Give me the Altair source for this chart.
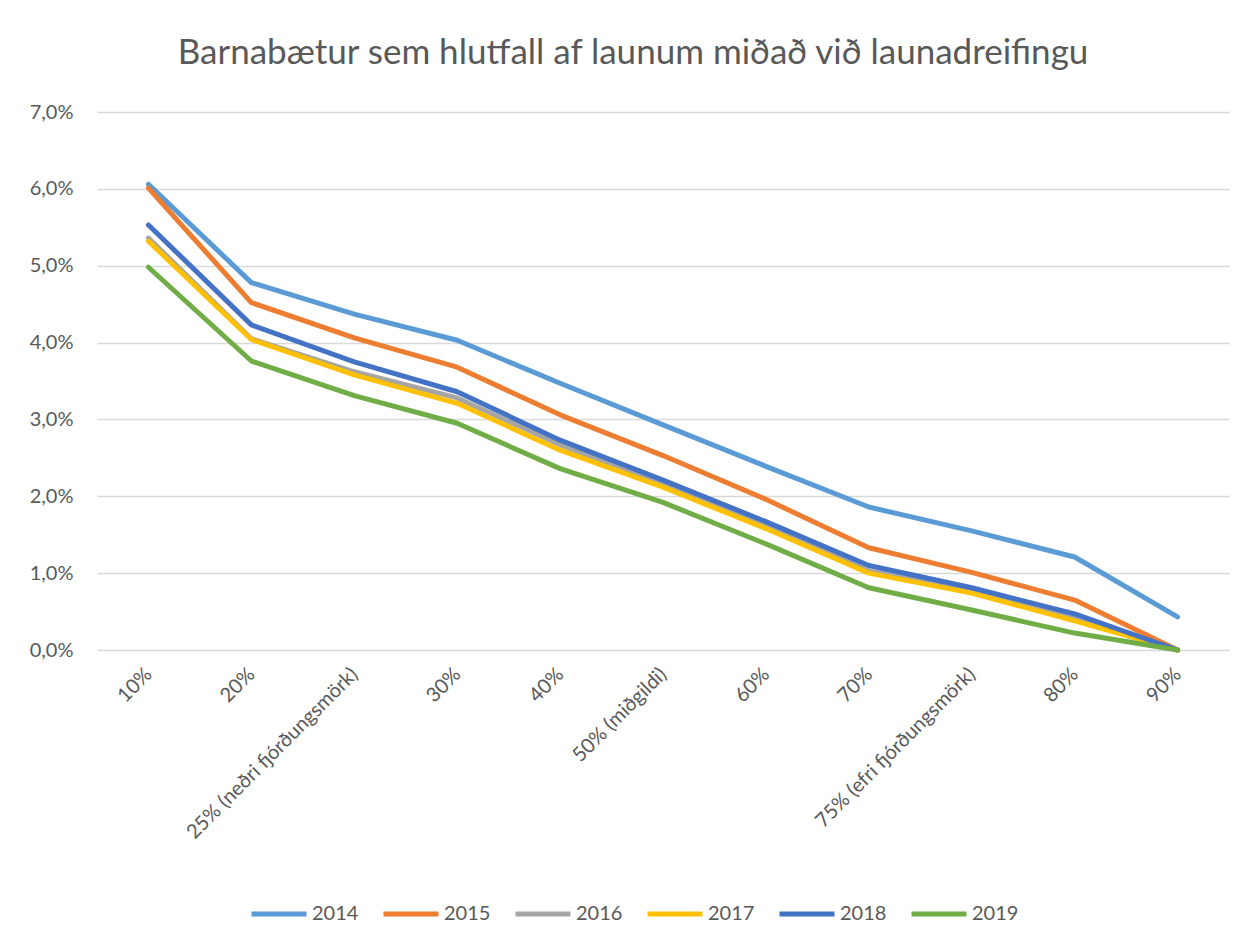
import altair as alt
import pandas as pd

categories = ["10%", "20%", "25% (neðri fjórðungsmörk)", "30%", "40%", "50% (miðgildi)",
              "60%", "70%", "75% (efri fjórðungsmörk)", "80%", "90%"]
years = ["2014", "2015", "2016", "2017", "2018", "2019"]
colors = ["#5B9BD5", "#ED7D31", "#A5A5A5", "#FFC000", "#4472C4", "#70AD47"]

v2014 = [6.06, 4.78, 4.37, 4.03, 3.47, 2.93, 2.39, 1.86, 1.55, 1.21, 0.43]
v2015 = [6.01, 4.52, 4.06, 3.68, 3.06, 2.53, 1.96, 1.33, 1.01, 0.65, 0.0]
v2016 = [5.36, 4.05, 3.62, 3.28, 2.67, 2.17, 1.63, 1.03, 0.78, 0.42, 0.0]
v2017 = [5.32, 4.04, 3.58, 3.21, 2.60, 2.12, 1.58, 1.00, 0.74, 0.38, 0.0]
v2018 = [5.53, 4.23, 3.75, 3.36, 2.73, 2.21, 1.67, 1.10, 0.81, 0.47, 0.0]
v2019 = [4.98, 3.76, 3.31, 2.95, 2.36, 1.92, 1.38, 0.81, 0.52, 0.22, 0.0]

series = [v2014, v2015, v2016, v2017, v2018, v2019]
rows = []
for yr, vals in zip(years, series):
    for i, (c, v) in enumerate(zip(categories, vals)):
        rows.append({"cat": c, "year": yr, "value": v / 100.0, "order": i})
df = pd.DataFrame(rows)

FONT = "Lato"
GREY = "#595959"

chart = alt.Chart(df).mark_line(strokeWidth=5, strokeCap="round", strokeJoin="round").encode(
    x=alt.X("cat:N", sort=categories, scale=alt.Scale(type="point", padding=0.5),
            axis=alt.Axis(title=None, labelAngle=-45, labelAlign="right", labelBaseline="middle",
                          labelFontSize=20, labelColor=GREY, labelFont=FONT, domain=False,
                          ticks=False, grid=False, labelPadding=21, labelLimit=400)),
    y=alt.Y("value:Q", scale=alt.Scale(domain=[0, 0.07], nice=False),
            axis=alt.Axis(title=None, values=[0, 0.01, 0.02, 0.03, 0.04, 0.05, 0.06, 0.07],
                          labelExpr="replace(format(datum.value, '.1%'), '.', ',')",
                          labelFontSize=20, labelColor=GREY, labelFont=FONT, domain=False,
                          ticks=False, gridColor="#D9D9D9", gridWidth=1.5, labelPadding=24)),
    color=alt.Color("year:N", scale=alt.Scale(domain=years, range=colors),
                    legend=alt.Legend(title=None, orient="none", direction="horizontal",
                                      legendX=152, legendY=772, symbolType="stroke",
                                      symbolStrokeWidth=5, symbolSize=3025,
                                      labelFontSize=20, labelColor=GREY, labelFont=FONT,
                                      labelOffset=3, columnPadding=14, symbolOffset=0)),
    order=alt.Order("order:Q"),
).properties(
    width=1132, height=538,
    title=alt.Title("Barnabætur sem hlutfall af launum miðað við launadreifingu",
                    fontSize=35, font=FONT, color=GREY, fontWeight="normal", offset=31, dx=-30),
    autosize=alt.AutoSizeParams(type="none"),
    padding={"left": 89, "top": 104, "right": 10, "bottom": 290},
).configure_view(stroke=None)

chart.save("out.html", embed_options={"renderer": "svg", "actions": False})
